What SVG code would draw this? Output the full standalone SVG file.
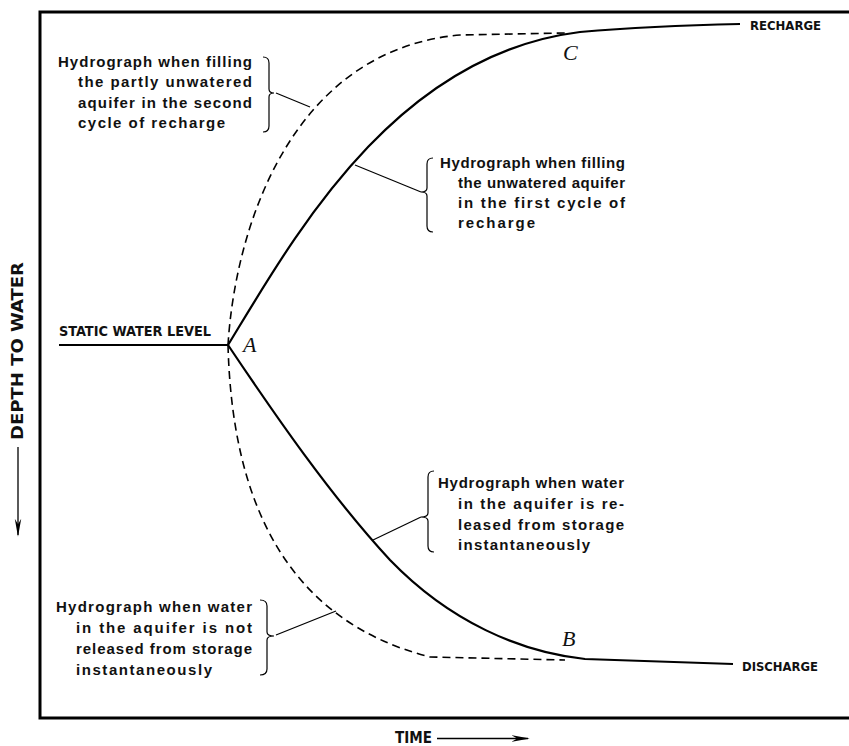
<svg xmlns="http://www.w3.org/2000/svg" width="849" height="746" viewBox="0 0 849 746">
<style>
.frame{fill:none;stroke:#000;stroke-width:3}
.solid{fill:none;stroke:#000;stroke-width:2.2}
.dash{fill:none;stroke:#000;stroke-width:1.6;stroke-dasharray:8 5}
.thin{fill:none;stroke:#000;stroke-width:1.2}
.body{font-family:"Liberation Sans",Arial,sans-serif;font-size:15px;font-weight:bold;fill:#111}
.caps{font-family:"DejaVu Sans Condensed","DejaVu Sans",sans-serif;font-weight:bold;fill:#111}
.pt{font-family:"Liberation Serif","Times New Roman",serif;font-style:italic;font-size:22px;fill:#111}
</style>
<defs>
<marker id="ah2" viewBox="0 0 10 10" refX="9" refY="5" markerWidth="18" markerHeight="8" markerUnits="userSpaceOnUse" orient="auto" preserveAspectRatio="none">
<path d="M0,1 L10,5 L0,9 L3,5 Z" fill="#000"/>
</marker>
</defs>
<g id="frame">
<path class="frame" d="M849,12 L40,12 L40,718 L849,718"/>
</g>
<g id="axes">
<text class="caps" font-size="15" x="395" y="743" textLength="37" lengthAdjust="spacingAndGlyphs">TIME</text>
<line x1="437" y1="738.5" x2="528" y2="738.5" stroke="#000" stroke-width="1.3" marker-end="url(#ah2)"/>
<text class="caps" font-size="15" transform="translate(23,440) rotate(-90)" x="0" y="0" textLength="178" lengthAdjust="spacingAndGlyphs">DEPTH TO WATER</text>
<line x1="18" y1="447" x2="18" y2="535" stroke="#000" stroke-width="1.3" marker-end="url(#ah2)"/>
</g>
<g id="connectors">
<path class="solid" d="M59,345 L228,345"/>
<path id="recharge-curve" class="solid" d="M228,345 C 295,235 395,55 580,32 Q 650,26 740,24"/>
<path id="second-recharge" class="dash" d="M228,345 C 235,230 290,50 460,35 L 565,33"/>
<path id="discharge-curve" class="solid" d="M228,345 C 275,415 330,495 390,560 C 450,622 520,652 585,659 L 733,664"/>
<path id="slow-discharge" class="dash" d="M228,345 C 232,500 285,620 430,657 L 565,660"/>
<path class="thin" d="M276,93 L310,107"/>
<path class="thin" d="M421,192 L355,165"/>
<path class="thin" d="M421,517 L373,540"/>
<path class="thin" d="M276,635 L336,611"/>
</g>
<g id="label-static">
<text class="caps" font-size="13.5" x="59" y="336" textLength="152" lengthAdjust="spacingAndGlyphs">STATIC WATER LEVEL</text>
</g>
<g id="label-recharge">
<text class="caps" font-size="13" x="750" y="30" textLength="71" lengthAdjust="spacingAndGlyphs">RECHARGE</text>
</g>
<g id="label-discharge">
<text class="caps" font-size="13" x="742" y="671" textLength="76" lengthAdjust="spacingAndGlyphs">DISCHARGE</text>
</g>
<g id="point-A"><text class="pt" x="243" y="352">A</text></g>
<g id="point-B"><text class="pt" x="562" y="646">B</text></g>
<g id="point-C"><text class="pt" x="563" y="60">C</text></g>
<g id="note-second-cycle">
<path class="thin" d="M263,57 Q269,57 269,63 L269,89 Q269,93 274,93 Q269,93 269,97 L269,126 Q269,132 263,132"/>
<text class="body" x="58" y="67" textLength="194" lengthAdjust="spacing">Hydrograph when filling</text>
<text class="body" x="78" y="87" textLength="174" lengthAdjust="spacing">the partly unwatered</text>
<text class="body" x="78" y="108" textLength="174" lengthAdjust="spacing">aquifer in the second</text>
<text class="body" x="78" y="128" textLength="147" lengthAdjust="spacing">cycle of recharge</text>
</g>
<g id="note-first-cycle">
<path class="thin" d="M433,158 Q427,158 427,164 L427,188 Q427,192 421,192 Q427,192 427,196 L427,226 Q427,232 433,232"/>
<text class="body" x="440" y="168" textLength="185" lengthAdjust="spacing">Hydrograph when filling</text>
<text class="body" x="458" y="188" textLength="167" lengthAdjust="spacing">the unwatered aquifer</text>
<text class="body" x="458" y="208" textLength="167" lengthAdjust="spacing">in the first cycle of</text>
<text class="body" x="458" y="228" textLength="77" lengthAdjust="spacing">recharge</text>
</g>
<g id="note-instant">
<path class="thin" d="M434,471 Q428,471 428,477 L428,513 Q428,517 421,517 Q428,517 428,521 L428,546 Q428,552 434,552"/>
<text class="body" x="438" y="488" textLength="186" lengthAdjust="spacing">Hydrograph when water</text>
<text class="body" x="458" y="509" textLength="166" lengthAdjust="spacing">in the aquifer is re-</text>
<text class="body" x="458" y="530" textLength="166" lengthAdjust="spacing">leased from storage</text>
<text class="body" x="458" y="550" textLength="132" lengthAdjust="spacing">instantaneously</text>
</g>
<g id="note-not-instant">
<path class="thin" d="M260,600 Q267,600 267,606 L267,632 Q267,636 274,636 Q267,636 267,640 L267,669 Q267,675 260,675"/>
<text class="body" x="56" y="612" textLength="196" lengthAdjust="spacing">Hydrograph when water</text>
<text class="body" x="76" y="633" textLength="176" lengthAdjust="spacing">in the aquifer is not</text>
<text class="body" x="76" y="654" textLength="176" lengthAdjust="spacing">released from storage</text>
<text class="body" x="76" y="675" textLength="136" lengthAdjust="spacing">instantaneously</text>
</g>
</svg>
